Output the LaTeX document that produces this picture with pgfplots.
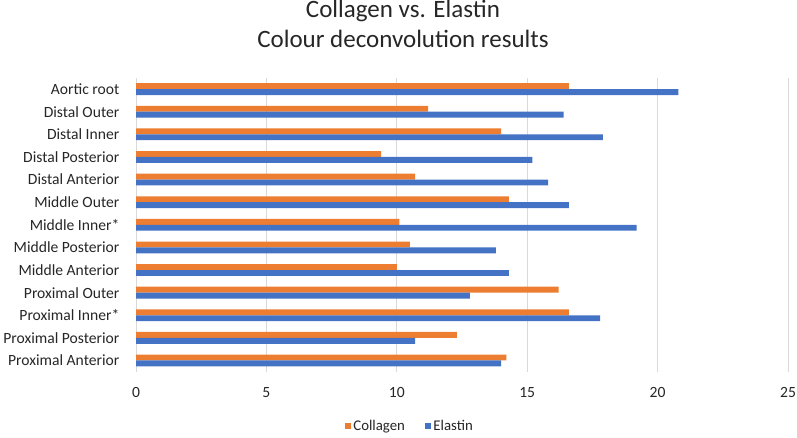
\documentclass[border=0pt]{standalone}
\usepackage{fontspec}
\setmainfont{Carlito}
\usepackage{pgfplots}
\pgfplotsset{compat=1.18}
\definecolor{cOr}{HTML}{ED7D31}
\definecolor{cBl}{HTML}{4472C4}
\definecolor{grd}{HTML}{D9D9D9}
\definecolor{txt}{HTML}{262626}
\begin{document}
\begin{tikzpicture}[x=1pt,y=1pt]
\path[use as bounding box] (0,0) rectangle (797,437);
\begin{axis}[at={(136pt,65.2pt)}, anchor=south west, scale only axis,
  width=652pt, height=294pt,
  xbar, bar width=5.9pt,
  xmin=0, xmax=25, ymin=-0.5, ymax=12.5,
  ytick={0,...,12},
  yticklabels={Proximal Anterior, Proximal Posterior, Proximal Inner*, Proximal Outer, Middle Anterior, Middle Posterior, Middle Inner*, Middle Outer, Distal Anterior, Distal Posterior, Distal Inner, Distal Outer, Aortic root},
  xtick={0,5,...,25},
  xmajorgrids, grid style={grd, line width=0.9pt},
  axis line style={draw=none}, major tick length=0pt,
  tick label style={font=\fontsize{15.6}{18}\selectfont, text=txt},
  /pgf/number format/assume math mode=true,
  xticklabel style={anchor=center, yshift=-21pt},
  yticklabel style={anchor=east, inner sep=0pt, xshift=-16.5pt},
  legend style={at={(0.42,-0.184)}, anchor=center, draw=none, legend columns=2,
    font=\fontsize{14.8}{17}\selectfont, text=txt,
    /tikz/every even column/.append style={column sep=18pt},
    /tikz/every odd column/.append style={column sep=0pt}},
  legend image code/.code={\fill[#1] (0pt,-3.2pt) rectangle (6.5pt,3.3pt);},
]
\addplot[fill=cOr, draw=none, bar shift=2.95pt] coordinates {
(14.2,0) (12.3,1) (16.6,2) (16.2,3) (10.0,4) (10.5,5) (10.1,6) (14.3,7) (10.7,8) (9.4,9) (14.0,10) (11.2,11) (16.6,12)};
\addlegendentry{Collagen}
\addplot[fill=cBl, draw=none, bar shift=-2.95pt] coordinates {
(14.0,0) (10.7,1) (17.8,2) (12.8,3) (14.3,4) (13.8,5) (19.2,6) (16.6,7) (15.8,8) (15.2,9) (17.9,10) (16.4,11) (20.8,12)};
\addlegendentry{Elastin}
\end{axis}
\node[anchor=base, text=txt, font=\fontsize{25}{30}\selectfont] at (403,419) {Collagen vs. Elastin};
\node[anchor=base, text=txt, font=\fontsize{25}{30}\selectfont] at (403,389.5) {Colour deconvolution results};
\end{tikzpicture}
\end{document}
